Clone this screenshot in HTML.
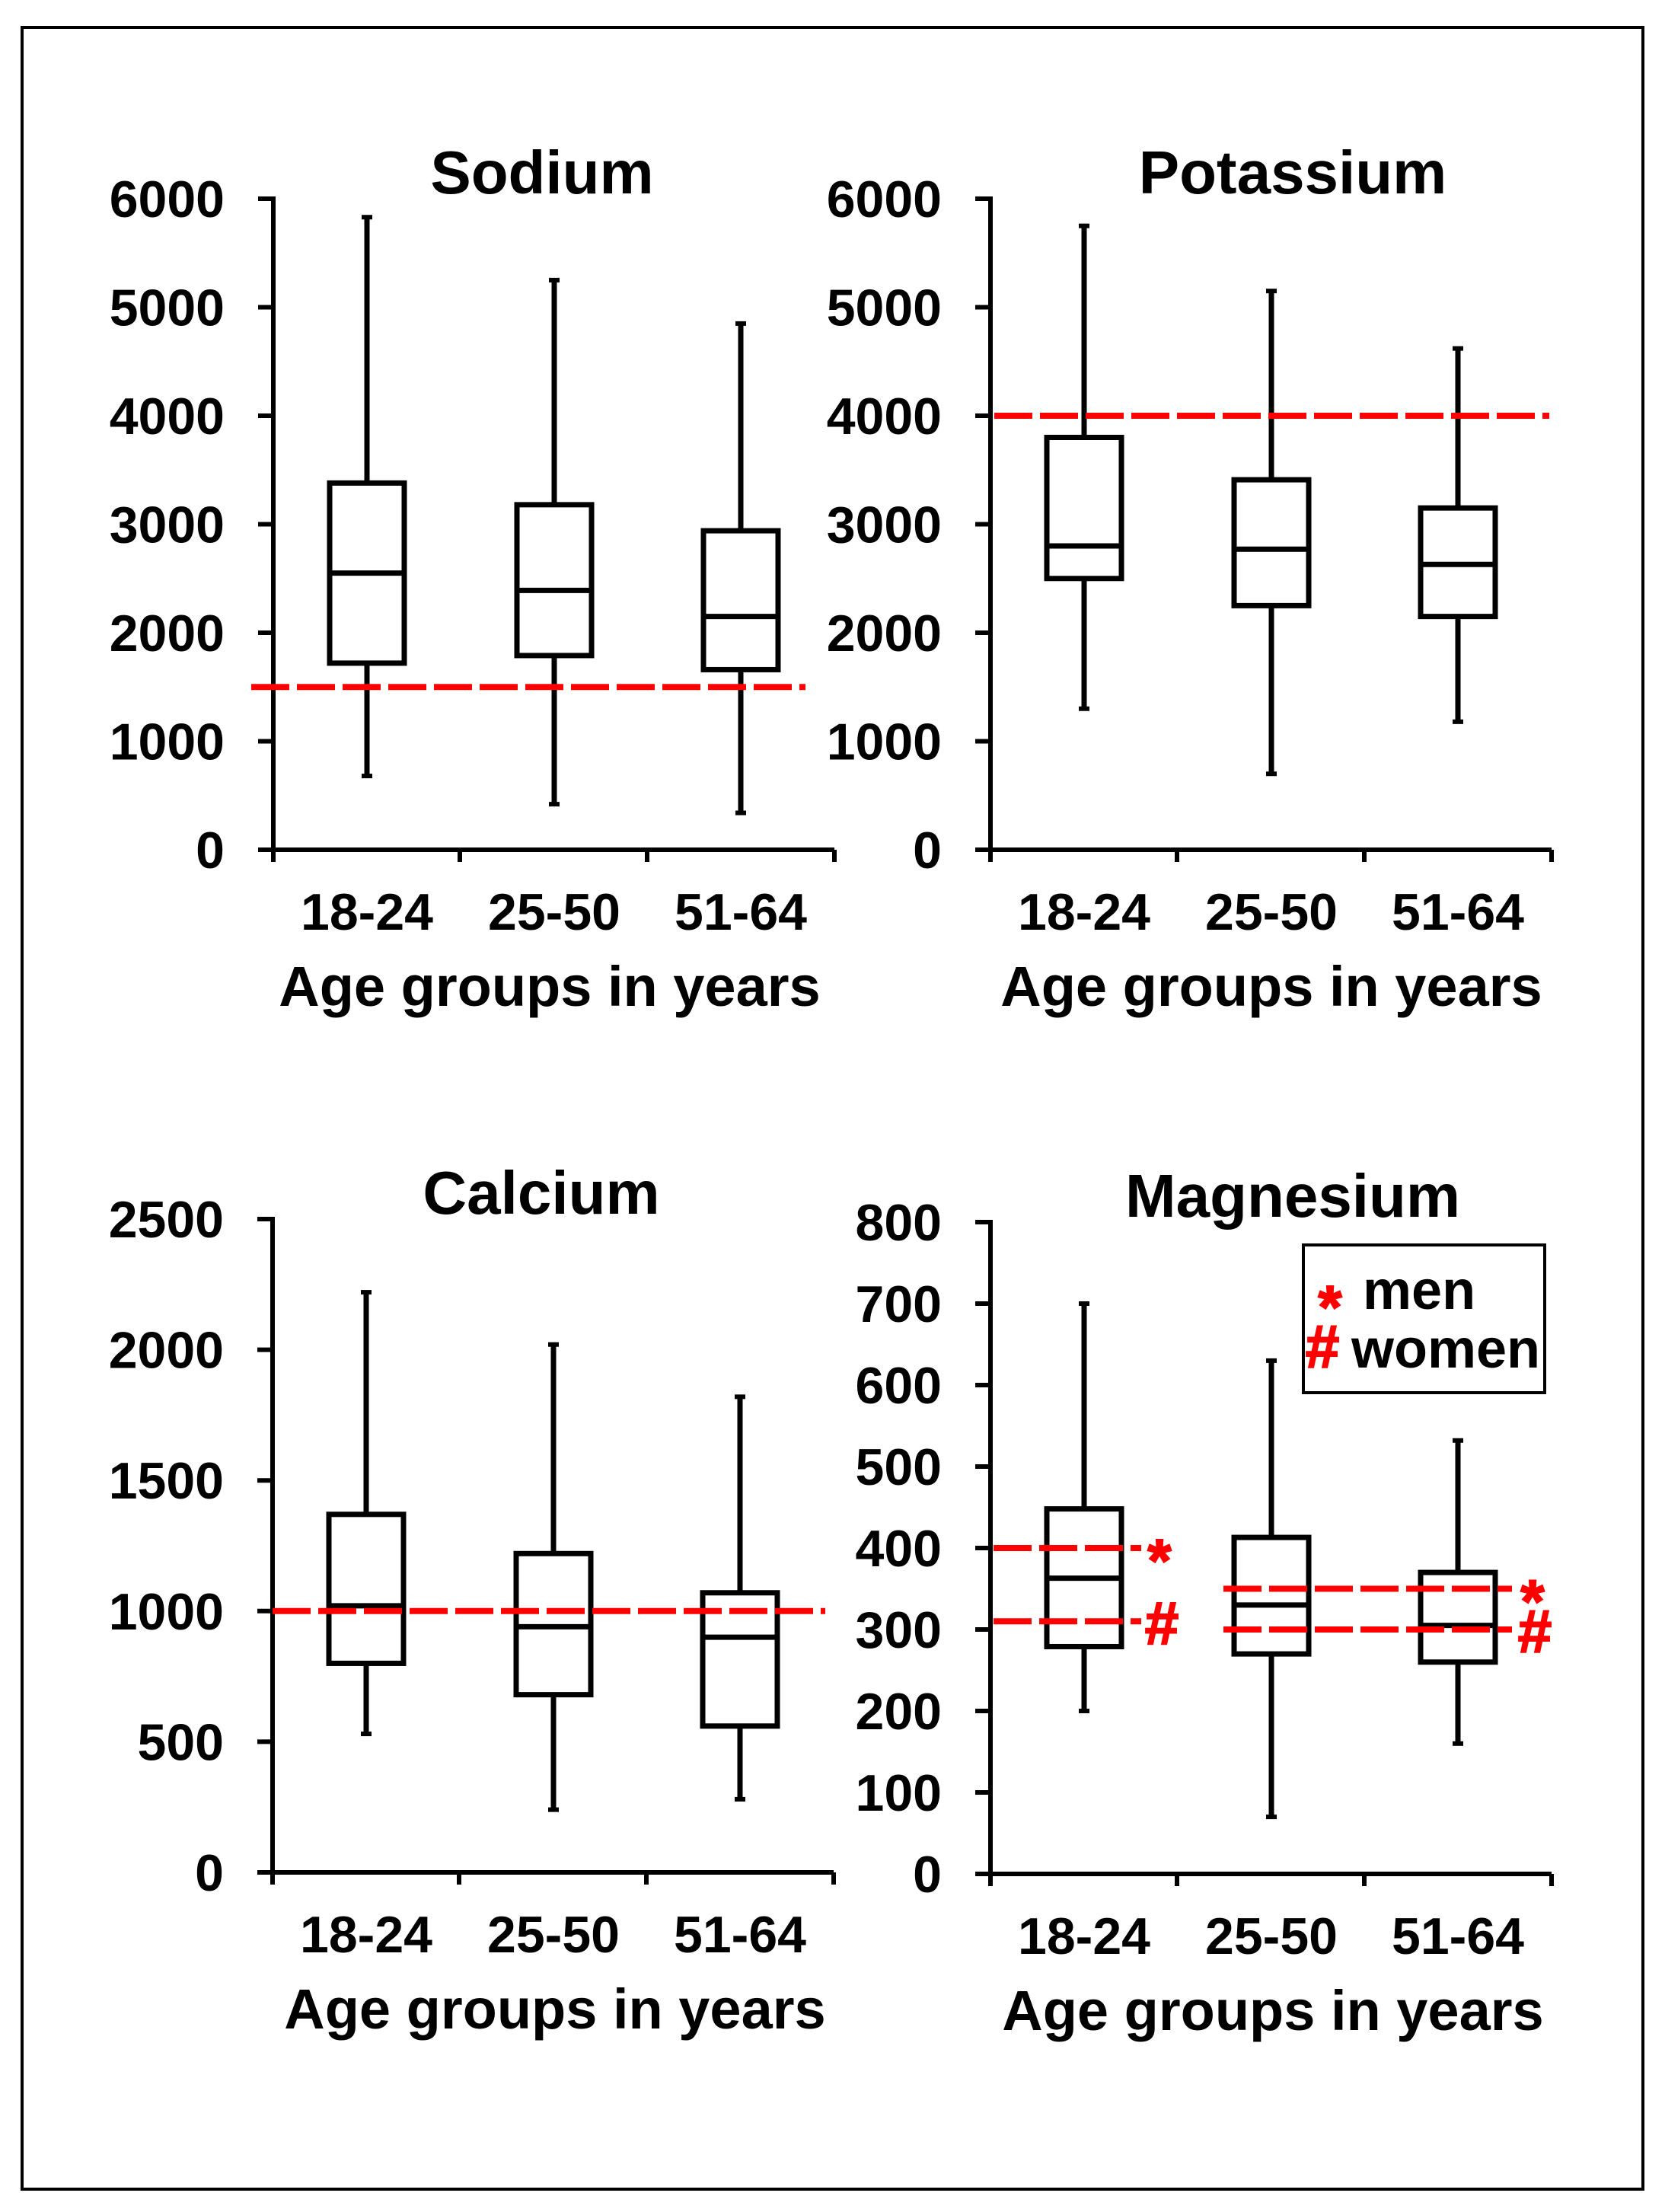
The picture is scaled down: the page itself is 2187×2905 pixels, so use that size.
<!DOCTYPE html>
<html><head><meta charset="utf-8"><style>
html,body{margin:0;padding:0;background:#fff;}
svg{display:block;}
text{font-family:"Liberation Sans",Arial,sans-serif;font-weight:bold;fill:#000;}
</style></head><body>
<svg id="s" xmlns="http://www.w3.org/2000/svg" width="2187" height="2905" viewBox="0 0 2187 2905">
<rect x="0" y="0" width="2187" height="2905" fill="#fff"/>
<rect x="29" y="36" width="2129" height="2839" fill="none" stroke="#000" stroke-width="4"/>
</svg>
<script>
var S=document.getElementById('s'),NS='http://www.w3.org/2000/svg';
function el(t,a,txt){var e=document.createElementNS(NS,t);for(var k in a)e.setAttribute(k,a[k]);if(txt!=null)e.textContent=txt;S.appendChild(e);return e;}
function line(x1,y1,x2,y2,c,w,d){var a={x1:x1,y1:y1,x2:x2,y2:y2,stroke:c||'#000','stroke-width':w||5};if(d)a['stroke-dasharray']=d;el('line',a);}
function panel(p){
  var ax=p.ax,y0=p.y0,yt=p.yt,max=p.max,end=ax+737;
  function Y(v){return y0-(y0-yt)*v/max;}
  line(ax,yt-3,ax,y0+16,'#000',6);
  line(ax-20,y0,end,y0,'#000',6);
  [ax+245,ax+491,end].forEach(function(x){line(x,y0,x,y0+16,'#000',6);});
  for(var v=0;v<=max;v+=p.step){var y=Y(v);line(ax-20,y,ax,y,'#000',6);
    el('text',{x:ax-64,y:y+24,'font-size':68,'text-anchor':'end'},String(v));}
  el('text',{x:p.tx,y:yt-7,'font-size':80,'text-anchor':'middle'},p.title);
  var cats=['18-24','25-50','51-64'];
  var cx=[ax+123,ax+369,ax+614];
  for(var i=0;i<3;i++)el('text',{x:cx[i],y:y0+105,'font-size':68,'text-anchor':'middle'},cats[i]);
  el('text',{x:p.atx,y:y0+205,'font-size':74,'text-anchor':'middle'},'Age groups in years');
  p.data.forEach(function(d,i){var x=cx[i];
    line(x,Y(d[4]),x,Y(d[0]),'#000',7);
    line(x-7,Y(d[4]),x+7,Y(d[4]),'#000',6);line(x-7,Y(d[0]),x+7,Y(d[0]),'#000',6);
    el('rect',{x:x-49,y:Y(d[3]),width:98,height:Y(d[1])-Y(d[3]),fill:'#fff',stroke:'#000','stroke-width':7});
    line(x-49,Y(d[2]),x+49,Y(d[2]),'#000',7);
  });
  p.red.forEach(function(r){line(r[1],Y(r[0]),r[2],Y(r[0]),'#f00',8,'50 10');});
  return Y;
}
panel({ax:359,y0:1116,yt:261,max:6000,step:1000,title:'Sodium',tx:712,atx:722,
  red:[[1500,330,1058]],
  data:[[680,1720,2550,3380,5830],[420,1790,2390,3180,5250],[340,1660,2150,2940,4850]]});
panel({ax:1301,y0:1116,yt:261,max:6000,step:1000,title:'Potassium',tx:1698,atx:1670,
  red:[[4000,1306,2035]],
  data:[[1300,2500,2800,3800,5750],[700,2250,2770,3410,5150],[1180,2150,2630,3150,4620]]});
panel({ax:358,y0:2459,yt:1601,max:2500,step:500,title:'Calcium',tx:711,atx:729,
  red:[[1000,358,1084]],
  data:[[530,800,1020,1370,2220],[240,680,940,1220,2020],[280,560,900,1070,1820]]});
var Y=panel({ax:1301,y0:2461,yt:1605,max:800,step:100,title:'Magnesium',tx:1698,atx:1672,
  red:[[400,1305,1499],[310,1305,1499],[350,1607,1986],[300,1607,1986]],
  data:[[200,279,363,448,700],[70,270,330,413,630],[160,260,305,370,532]]});
function red(x,y,t,fs){el('text',{x:x,y:y,'font-size':fs,'text-anchor':'middle',style:'fill:#f00;stroke:#f00;stroke-width:2'},t);}
red(1523,Y(400)+44,'*',80);red(1526,Y(310)+30,'#',80);
red(2013,Y(350)+44,'*',80);red(2016,Y(300)+30,'#',80);
el('rect',{x:1712,y:1635,width:317,height:194,fill:'#fff',stroke:'#000','stroke-width':4});
red(1747,1744,'*',80);
el('text',{x:1790,y:1719,'font-size':72},'men');
red(1737,1796,'#',80);
el('text',{x:1775,y:1796,'font-size':72},'women');
</script>
</body></html>
